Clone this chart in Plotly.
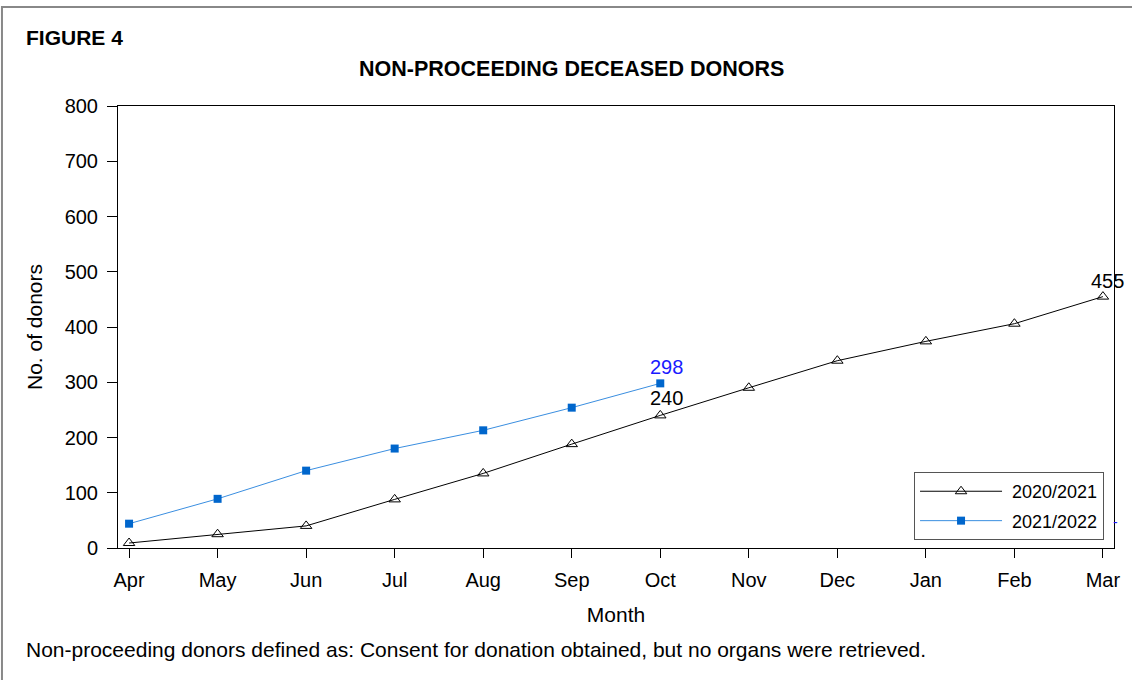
import plotly.graph_objects as go

# Data
months = ["Apr", "May", "Jun", "Jul", "Aug", "Sep", "Oct", "Nov", "Dec", "Jan", "Feb", "Mar"]
donors_2020_21 = [9, 25, 40, 88, 135, 188, 240, 290, 339, 374, 406, 455]
donors_2021_22 = [44, 89, 140, 180, 213, 254, 298]
y_ticks = [0, 100, 200, 300, 400, 500, 600, 700, 800]

FONT = "Liberation Sans, Arial, sans-serif"
BLUE_LINE = "#3a8ee0"
BLUE_MARK = "#0066cc"

x_idx = list(range(len(months)))

fig = go.Figure()
fig.add_trace(
    go.Scatter(
        x=x_idx,
        y=donors_2020_21,
        mode="lines+markers",
        name="&nbsp;2020/2021",
        legendgroup="a",
        line={"color": "black", "width": 1},
        marker={"symbol": "triangle-up-open", "size": 10, "color": "black", "line": {"width": 1}},
    )
)
fig.add_trace(
    go.Scatter(
        x=x_idx[: len(donors_2021_22)],
        y=donors_2021_22,
        mode="lines+markers",
        name="&nbsp;2021/2022",
        legendgroup="b",
        line={"color": BLUE_LINE, "width": 1},
        marker={"symbol": "square", "size": 8, "color": BLUE_MARK},
    )
)

# value labels on the last points
last22 = len(donors_2021_22) - 1
fig.add_annotation(x=last22, y=donors_2021_22[last22], text=str(donors_2021_22[last22]),
                   showarrow=False, yshift=16, xshift=6, font={"color": "#1a1aff", "size": 20})
fig.add_annotation(x=6, y=donors_2020_21[6], text=str(donors_2020_21[6]),
                   showarrow=False, yshift=17, xshift=6, font={"color": "black", "size": 20})
fig.add_annotation(x=11, y=donors_2020_21[11], text=str(donors_2020_21[11]),
                   showarrow=False, yshift=16, xshift=5, font={"color": "black", "size": 20})
# small blue mark at right edge
fig.add_annotation(xref="paper", x=1.0, y=47, text="-", showarrow=False, xanchor="left",
                   xshift=-3, font={"color": "#1a1aff", "size": 14})

# headings and footnote
fig.add_annotation(xref="paper", yref="paper", x=-0.0945, y=1.156, xanchor="left", yanchor="middle",
                   text="<b>FIGURE 4</b>", showarrow=False, font={"size": 21, "color": "black"})
fig.add_annotation(xref="paper", yref="paper", x=0.455, y=1.083, xanchor="center", yanchor="middle",
                   text="<b>NON-PROCEEDING DECEASED DONORS</b>", showarrow=False,
                   font={"size": 21.5, "color": "black"})
fig.add_annotation(xref="paper", yref="paper", x=-0.0945, y=-0.23, xanchor="left", yanchor="middle",
                   text="Non-proceeding donors defined as: Consent for donation obtained, but no organs were retrieved.",
                   showarrow=False, font={"size": 21, "color": "black"})

# outer frame around the whole figure
fig.add_shape(type="rect", xref="paper", yref="paper", x0=-0.1165, x1=1.05, y0=-0.4, y1=1.224,
              line={"color": "#888888", "width": 2})

fig.update_xaxes(
    range=[-0.125, 11.125],
    tickmode="array",
    tickvals=x_idx,
    ticktext=months,
    ticks="outside",
    ticklen=9,
    tickcolor="black",
    ticklabelstandoff=5,
    showline=True,
    linecolor="black",
    mirror=True,
    showgrid=False,
    zeroline=False,
    title={"text": "Month", "font": {"size": 21}, "standoff": 17},
    tickfont={"size": 20},
)
fig.update_yaxes(
    range=[0, 800],
    tickmode="array",
    tickvals=y_ticks,
    ticks="outside",
    ticklen=10,
    tickcolor="black",
    ticklabelstandoff=5,
    showline=True,
    linecolor="black",
    mirror=True,
    showgrid=False,
    zeroline=False,
    title={"text": "No. of donors", "font": {"size": 21}, "standoff": 16},
    tickfont={"size": 20},
)
fig.update_layout(
    width=1132,
    height=680,
    margin={"l": 118, "r": 18, "t": 106, "b": 132},
    paper_bgcolor="white",
    plot_bgcolor="white",
    font={"family": FONT, "color": "black"},
    showlegend=True,
    legend={
        "x": 0.99,
        "y": 0.018,
        "xanchor": "right",
        "yanchor": "bottom",
        "bordercolor": "#555555",
        "borderwidth": 1,
        "bgcolor": "white",
        "font": {"size": 18},
        "itemwidth": 82,
        "traceorder": "grouped",
        "tracegroupgap": 3,
    },
)

fig.write_html("out.html", config={"displayModeBar": False},
               post_script="document.body.style.margin='0';")
